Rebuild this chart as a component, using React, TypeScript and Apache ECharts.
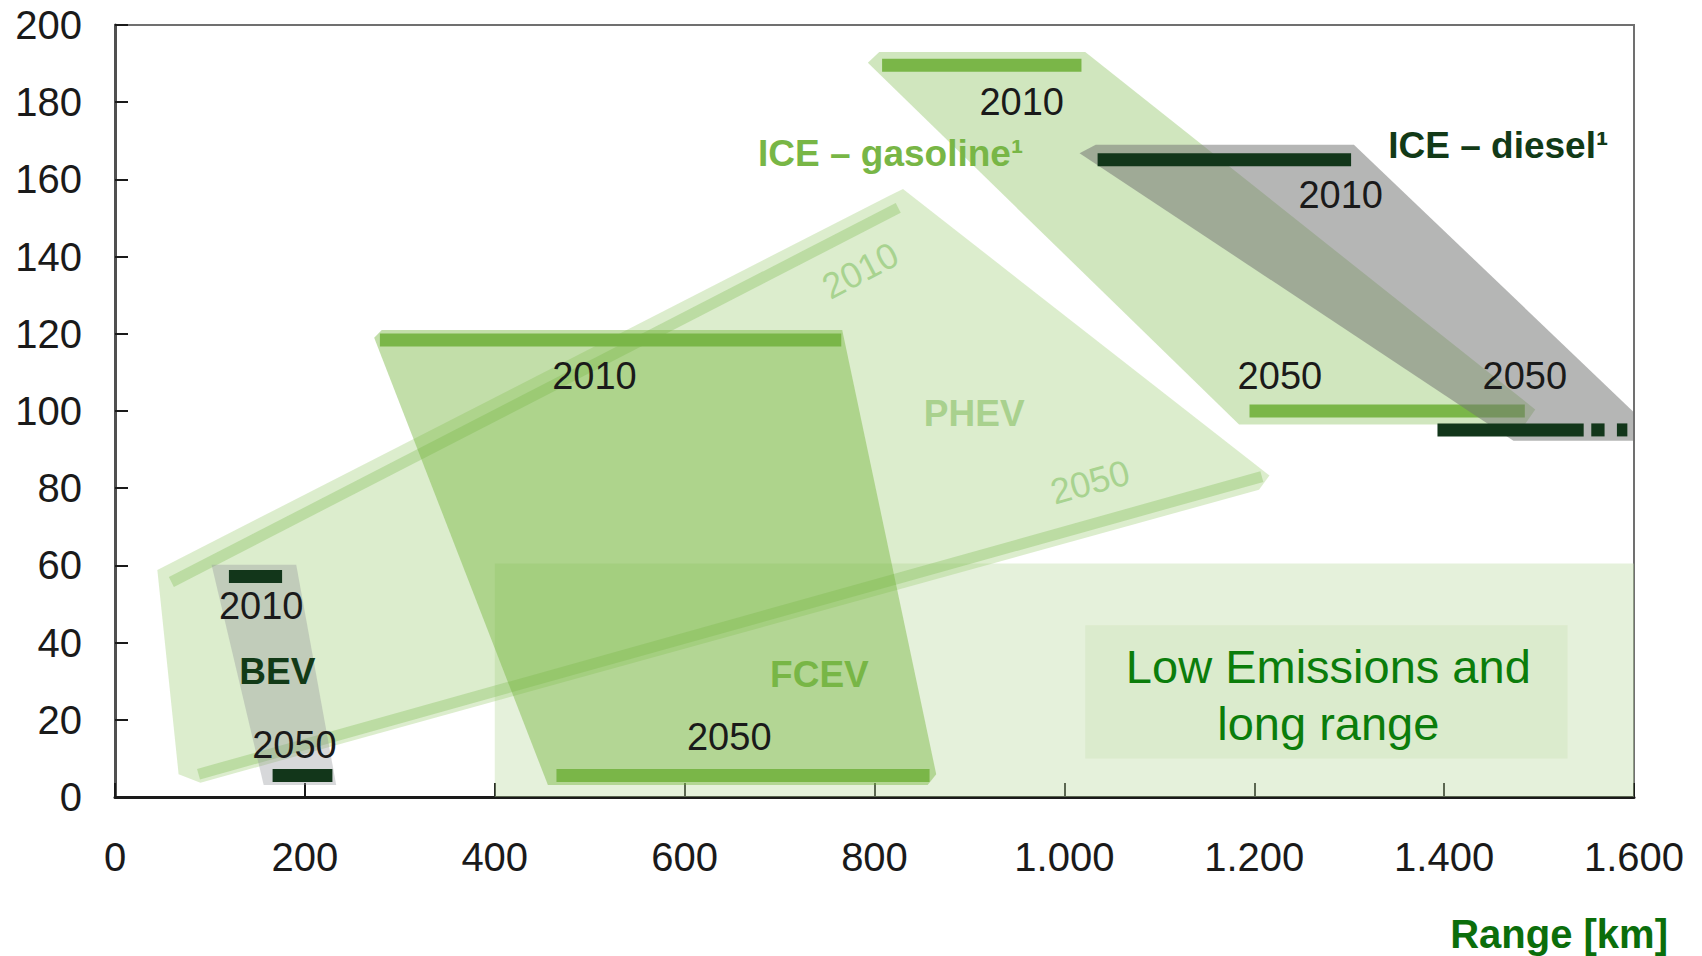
import React, { useEffect, useRef } from "react";
import * as echarts from "echarts";

// ---------- data (x = range [km], y = emissions) ----------
const xTicks = [0, 200, 400, 600, 800, 1000, 1200, 1400, 1600];
const yTicks = [0, 20, 40, 60, 80, 100, 120, 140, 160, 180, 200];

const lowEmissionArea = [[400, 0], [1600, 0], [1600, 60.5], [400, 60.5]];
const lowEmissionBox = [[1022, 10], [1530, 10], [1530, 44.5], [1022, 44.5]];

const phevArea = [[44.6, 58.8], [814, 155.6], [830, 157.5], [1216, 83.3], [1205, 79.6], [90, 3.7], [67, 5.9]];
const phev2010Line = [[59.4, 55.7], [825, 152.6]];
const phev2050Line = [[88, 5.9], [1208, 83]];

const fcevArea = [[273, 119], [281, 121], [766, 121], [865, 5.9], [856, 3.1], [456, 3.1]];
const fcevBars = [[279, 765, 118.4], [465, 858, 5.6]];

const bevArea = [[101.7, 60.2], [190.9, 60.2], [233, 3.1], [156.6, 3.1]];
const bevBars = [[120, 176, 57.1], [166, 229, 5.6]];

const gasolineArea = [[793, 190.2], [805, 193], [1022, 193], [1496, 100.4], [1485, 96.5], [1184, 96.5]];
const gasolineBars = [[808, 1018, 189.6], [1195, 1485, 100]];

const dieselArea = [[1016, 166.8], [1033, 169], [1305, 169], [1599, 99.9], [1599, 92.3], [1473, 92.3]];
const dieselBars = [[1035, 1302, 165.1], [1393, 1547, 95.1], [1555, 1569, 95.1], [1582, 1593, 95.1]];

const yearLabels = [
  { text: "2010", x: 955, y: 180 },
  { text: "2050", x: 1227, y: 109 },
  { text: "2010", x: 1291, y: 156 },
  { text: "2050", x: 1485, y: 109 },
  { text: "2010", x: 505, y: 109 },
  { text: "2050", x: 647, y: 15.5 },
  { text: "2010", x: 154, y: 49.5 },
  { text: "2050", x: 189, y: 13.5 },
];
const phevYearLabels = [
  { text: "2010", x: 785, y: 136.4, angle: 27.5 },
  { text: "2050", x: 1027, y: 81.6, angle: 15.6 },
];
const typeLabels = [
  { text: "ICE – gasoline¹", x: 817, y: 166.8, kind: "gas" },
  { text: "ICE – diesel¹", x: 1457, y: 168.8, kind: "dark" },
  { text: "PHEV", x: 905, y: 99.3, kind: "phev" },
  { text: "FCEV", x: 742, y: 31.8, kind: "gas" },
  { text: "BEV", x: 171, y: 32.6, kind: "dark" },
];
const lowEmissionText = { text: "Low Emissions and\nlong range", x: 1278, y: 26.5 };

// ---------- styles ----------
const FONT = "'Liberation Sans', Arial, Helvetica, sans-serif";
const LIGHT_BAR = "#7ab648";
const DARK_BAR = "#12361a";
const labelColors: Record<string, string> = { gas: "#78b646", dark: "#123a17", phev: "#a9d18e" };

function polySeries(points: number[][], fill: string, z: number) {
  return {
    type: "custom",
    coordinateSystem: "cartesian2d",
    silent: true,
    z,
    data: [[points[0][0], points[0][1]]],
    renderItem: (_p: any, api: any) => ({
      type: "polygon",
      shape: { points: points.map((pt) => api.coord(pt)) },
      style: { fill },
    }),
  };
}

function lineSeries(points: number[][], stroke: string, width: number, z: number) {
  return {
    type: "custom",
    coordinateSystem: "cartesian2d",
    silent: true,
    z,
    data: [[points[0][0], points[0][1]]],
    renderItem: (_p: any, api: any) => ({
      type: "polyline",
      shape: { points: points.map((pt) => api.coord(pt)) },
      style: { stroke, lineWidth: width, fill: null, lineCap: "butt" },
    }),
  };
}

function barSeries(bars: number[][], fill: string, z: number) {
  return {
    type: "custom",
    coordinateSystem: "cartesian2d",
    silent: true,
    z,
    data: bars.map((b) => [b[0], b[2], b[1]]),
    renderItem: (_p: any, api: any) => {
      const a = api.coord([api.value(0), api.value(1)]);
      const b = api.coord([api.value(2), api.value(1)]);
      return {
        type: "rect",
        shape: { x: a[0], y: a[1] - 6.5, width: b[0] - a[0], height: 13 },
        style: { fill },
      };
    },
  };
}

function textSeries(items: any[], styleFor: (it: any) => any, z: number) {
  return {
    type: "custom",
    coordinateSystem: "cartesian2d",
    silent: true,
    z,
    data: items.map((it) => [it.x, it.y]),
    renderItem: (params: any, api: any) => {
      const it = items[params.dataIndex];
      const c = api.coord([it.x, it.y]);
      return {
        type: "text",
        x: c[0],
        y: c[1],
        rotation: ((it.angle || 0) * Math.PI) / 180,
        style: Object.assign({ text: it.text, x: 0, y: 0, align: "center", verticalAlign: "middle" }, styleFor(it)),
      };
    },
  };
}

const fmt = (v: number) => String(v).replace(/\B(?=(\d{3})+(?!\d))/g, ".");

export default function App() {
  const ref = useRef<HTMLDivElement>(null);
  useEffect(() => {
    if (!ref.current) return;
    const chart = echarts.init(ref.current, null, { renderer: "svg" });
    chart.setOption({
      animation: false,
      backgroundColor: "#ffffff",
      grid: { left: 115, right: 68, top: 25, bottom: 159, show: true, borderColor: "#707070", borderWidth: 2 },
      xAxis: {
        type: "value",
        min: xTicks[0],
        max: xTicks[xTicks.length - 1],
        interval: xTicks[1] - xTicks[0],
        axisLine: { show: true, onZero: false, lineStyle: { color: "#1a1a1a", width: 3 } },
        axisTick: { show: true, inside: true, length: 14, lineStyle: { color: "#1a1a1a", width: 2 } },
        axisLabel: { margin: 40, fontSize: 40, color: "#1a1a1a", fontFamily: FONT, formatter: fmt },
        splitLine: { show: false },
      },
      yAxis: {
        type: "value",
        min: yTicks[0],
        max: yTicks[yTicks.length - 1],
        interval: yTicks[1] - yTicks[0],
        axisLine: { show: true, lineStyle: { color: "#505050", width: 3 } },
        axisTick: { show: true, inside: true, length: 13, lineStyle: { color: "#1a1a1a", width: 2 } },
        axisLabel: { margin: 33, fontSize: 40, color: "#1a1a1a", fontFamily: FONT },
        splitLine: { show: false },
      },
      graphic: [
        {
          type: "text",
          right: 34,
          top: 914,
          style: { text: "Range [km]", font: `bold 40px ${FONT}`, fill: "#0b6e0b" },
        },
      ],
      series: [
        polySeries(lowEmissionArea, "rgba(190,220,165,0.4)", 1),
        polySeries(lowEmissionBox, "rgba(190,220,165,0.25)", 2),
        polySeries(phevArea, "rgba(160,205,120,0.37)", 3),
        lineSeries(phev2010Line, "rgba(140,195,100,0.4)", 11, 4),
        lineSeries(phev2050Line, "rgba(140,195,100,0.4)", 11, 4),
        polySeries(fcevArea, "rgba(113,178,55,0.43)", 5),
        barSeries(fcevBars, LIGHT_BAR, 6),
        polySeries(bevArea, "rgba(147,150,155,0.37)", 7),
        barSeries(bevBars, DARK_BAR, 8),
        polySeries(gasolineArea, "rgba(150,200,110,0.45)", 9),
        barSeries(gasolineBars, LIGHT_BAR, 10),
        polySeries(dieselArea, "rgba(115,117,115,0.53)", 11),
        barSeries(dieselBars, DARK_BAR, 12),
        textSeries([lowEmissionText], () => ({ font: `47px ${FONT}`, fill: "#0b7d0b", lineHeight: 57 }), 13),
        textSeries(yearLabels, () => ({ font: `38px ${FONT}`, fill: "#1a1a1a" }), 14),
        textSeries(phevYearLabels, () => ({ font: `36px ${FONT}`, fill: "#a8d390" }), 14),
        textSeries(typeLabels, (it) => ({ font: `bold 37px ${FONT}`, fill: labelColors[it.kind] }), 15),
      ],
    });
    return () => chart.dispose();
  }, []);
  return <div ref={ref} style={{ position: "fixed", left: 0, top: 0, width: 1702, height: 956 }} />;
}
